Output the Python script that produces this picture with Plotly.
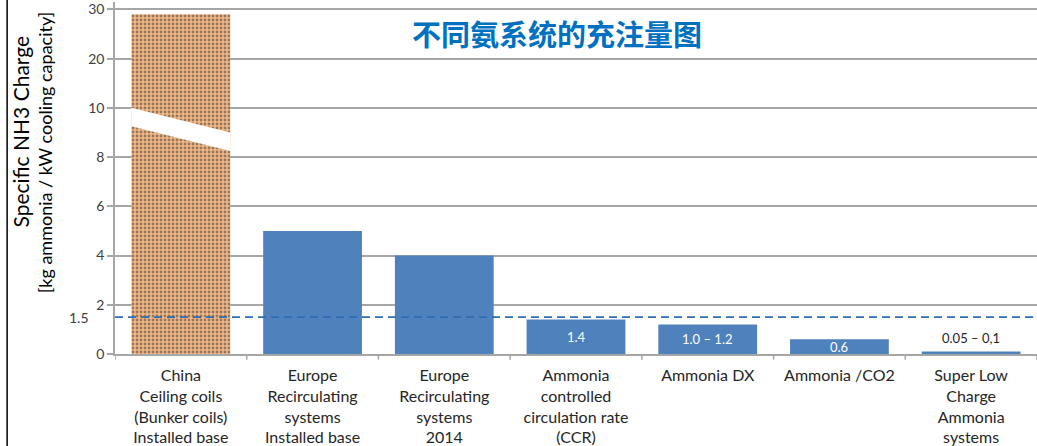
import plotly.graph_objects as go

# Category labels (x axis) and specific ammonia charge per system, kg NH3 / kW
categories = [
    "China<br>Ceiling coils<br>(Bunker coils)<br>Installed base",
    "Europe<br>Recirculating<br>systems<br>Installed base",
    "Europe<br>Recirculating<br>systems<br>2014",
    "Ammonia<br>controlled<br>circulation rate<br>(CCR)",
    "Ammonia DX",
    "Ammonia /CO2",
    "Super Low<br>Charge<br>Ammonia<br>systems",
]
charge = [29, 5, 4, 1.4, 1.2, 0.6, 0.1]
value_labels = ["", "", "", "1.4", "1.0 – 1.2", "0.6", "0.05 – 0,1"]
reference_level = 1.5

# Broken y axis: linear up to 10, then compressed 5:1 above it
tick_values = [0, 2, 4, 6, 8, 10, 20, 30]
BREAK_AT = 10
COMPRESS = 5


def to_axis(v):
    return v if v <= BREAK_AT else BREAK_AT + (v - BREAK_AT) / COMPRESS


BAR_WIDTH = 0.75
ORANGE_BG = "#F5B884"
ORANGE_FG = "#E8833A"
BLUE = "#4F81BD"
GRID = "#A6A6A6"
TEXT = "#262626"
FONT = "Lato, 'Open Sans', sans-serif"

x_idx = list(range(len(categories)))
y_axis_vals = [to_axis(v) for v in charge]

colors = [ORANGE_BG] + [BLUE] * (len(charge) - 1)
shapes_pattern = ["."] + [""] * (len(charge) - 1)

fig = go.Figure()
fig.add_trace(go.Bar(
    x=x_idx,
    y=y_axis_vals,
    width=BAR_WIDTH,
    marker=dict(
        color=colors,
        line=dict(width=0),
        pattern=dict(shape=shapes_pattern, fgcolor=ORANGE_FG, fgopacity=0.55,
                     size=4, solidity=0.4, fillmode="overlay"),
    ),
    customdata=charge,
    hovertemplate="%{customdata}<extra></extra>",
))

shapes = []
# White slanted gap marking the axis break on the first bar
half = BAR_WIDTH / 2
gap_top = (BREAK_AT, BREAK_AT - 1.0)
gap_bottom = (BREAK_AT - 0.75, BREAK_AT - 1.75)
shapes.append(dict(
    type="path", xref="x", yref="y",
    path=(f"M {x_idx[0] - half},{gap_top[0]} L {x_idx[0] + half},{gap_top[1]} "
          f"L {x_idx[0] + half},{gap_bottom[1]} L {x_idx[0] - half},{gap_bottom[0]} Z"),
    fillcolor="white", line=dict(width=0), layer="above",
))
# Dashed reference level
shapes.append(dict(
    type="line", xref="paper", yref="y", x0=0, x1=1,
    y0=reference_level, y1=reference_level,
    line=dict(color="#2E6DB4", width=1.6, dash="8px,5px"), layer="above",
))
# Frame line along the left edge
shapes.append(dict(
    type="line", xref="paper", yref="paper", x0=-0.117, x1=-0.117,
    y0=-0.27, y1=1.03, line=dict(color="#000000", width=1.5),
))

annotations = []
for i, (v, lab) in enumerate(zip(charge, value_labels)):
    if not lab:
        continue
    if v >= 0.5:
        annotations.append(dict(
            x=i, y=to_axis(v) / 2, xref="x", yref="y", text=lab,
            showarrow=False, font=dict(family=FONT, size=13, color="white"),
        ))
    else:
        annotations.append(dict(
            x=i, y=to_axis(v), xref="x", yref="y", text=lab, yanchor="bottom",
            yshift=4, showarrow=False, font=dict(family=FONT, size=13, color=TEXT),
        ))

# Extra label for the dashed reference level
annotations.append(dict(
    x=0, xref="paper", xanchor="right", xshift=-24, y=reference_level, yref="y",
    text=f"{reference_level}", showarrow=False,
    font=dict(family=FONT, size=14, color="#404040"),
))

# Y axis titles (two lines of different sizes)
annotations.append(dict(
    x=-0.102, y=0.632, xref="paper", yref="paper", text="Specific NH3 Charge",
    textangle=-90, showarrow=False, xanchor="center", yanchor="middle",
    font=dict(family=FONT, size=21, color="#000000"),
))
annotations.append(dict(
    x=-0.076, y=0.573, xref="paper", yref="paper",
    text="[kg ammonia / kW cooling capacity]",
    textangle=-90, showarrow=False, xanchor="center", yanchor="middle",
    font=dict(family=FONT, size=18, color="#000000"),
))

# Chart title
annotations.append(dict(
    x=0.479, y=0.912, xref="paper", yref="paper", text="<b>不同氨系统的充注量图</b>",
    showarrow=False, xanchor="center", yanchor="middle",
    font=dict(family="'Noto Sans CJK SC', sans-serif", size=29, color="#0070C0"),
))

fig.update_layout(
    width=1037, height=446,
    margin=dict(l=115, r=0, t=0, b=92),
    paper_bgcolor="white", plot_bgcolor="white",
    showlegend=False,
    bargap=0.25,
    shapes=shapes,
    annotations=annotations,
    font=dict(family=FONT, color=TEXT),
)
fig.update_xaxes(
    range=[-0.5, len(categories) - 0.5],
    tickmode="array", tickvals=x_idx, ticktext=categories,
    tickfont=dict(family=FONT, size=16, color=TEXT),
    ticklabelstandoff=6,
    showgrid=False, zeroline=False,
    showline=True, linecolor=GRID, linewidth=1.5,
)
fig.update_yaxes(
    range=[0, to_axis(tick_values[-1]) + 0.3],
    tickmode="array", tickvals=[to_axis(v) for v in tick_values],
    ticktext=[str(v) for v in tick_values],
    tickfont=dict(family=FONT, size=14, color="#404040"),
    ticklabeloverflow="allow",
    ticks="outside", ticklen=6, tickcolor=GRID, tickwidth=1.5,
    showgrid=True, gridcolor=GRID, gridwidth=1.5,
    zeroline=False, showline=True, linecolor=GRID, linewidth=1.5,
)

# Category boundary tick marks on the x axis
for b in range(len(categories) + 1):
    fig.add_shape(type="line", xref="x", yref="paper", x0=b - 0.5, x1=b - 0.5,
                  y0=0, y1=-0.016, line=dict(color=GRID, width=1.5))

fig.write_html("out.html")
